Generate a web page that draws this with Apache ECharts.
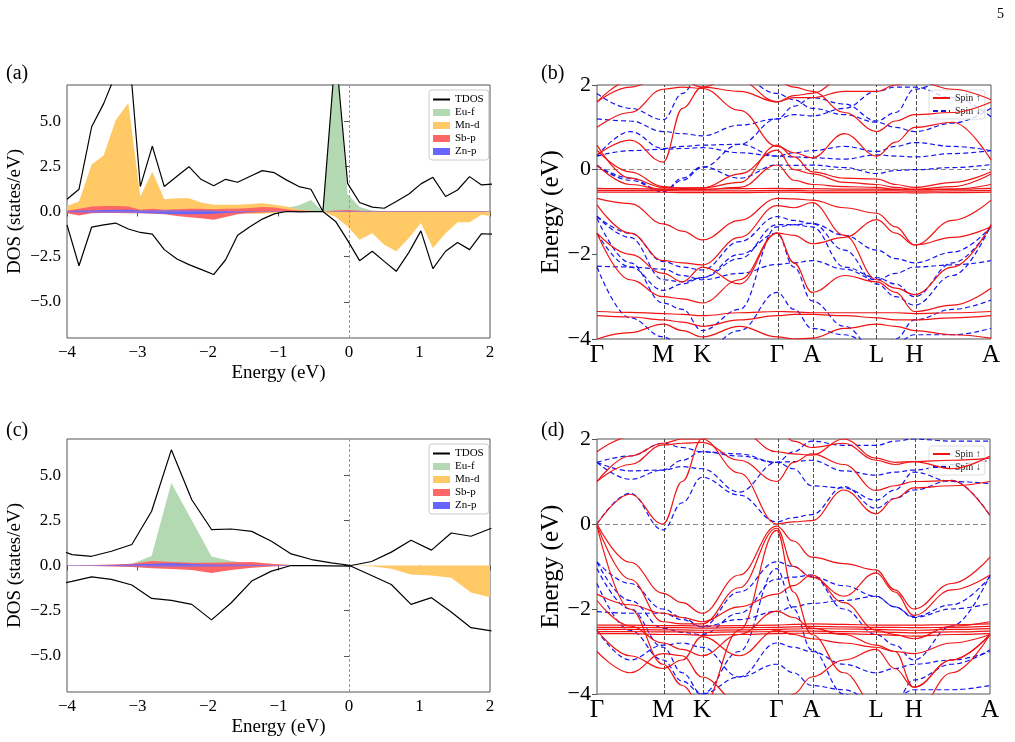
<!DOCTYPE html>
<html>
<head>
<meta charset="utf-8">
<script src="https://cdn.jsdelivr.net/npm/echarts@6.0.0/dist/echarts.min.js"></script>
<style>
html, body { margin: 0; padding: 0; background: #fff; }
#main { width: 1015px; height: 742px; }
</style>
</head>
<body>
<div id="main"></div>
<script>
// ---- DOS panel (a) : energies and projected DOS (spin up > 0, spin down < 0)
const energyA = [-4.00,-3.83,-3.65,-3.48,-3.31,-3.13,-2.96,-2.79,-2.62,-2.44,-2.27,-2.10,-1.92,-1.75,-1.58,-1.40,-1.23,-1.06,-0.89,-0.71,-0.54,-0.37,-0.19,-0.02,0.15,0.33,0.50,0.67,0.85,1.02,1.19,1.37,1.54,1.71,1.88,2.06];
const tdosUpA = [0.68,1.23,4.69,5.97,7.6,9.4,1.38,3.62,1.38,1.95,2.48,1.78,1.42,1.78,1.62,1.95,2.26,2.15,1.75,1.38,1.23,0.0,8.9,1.56,0.50,0.24,0.18,0.55,0.97,1.53,1.89,0.83,1.19,1.93,1.47,1.53];
const tdosDnA = [-0.74,-3.0,-0.86,-0.74,-0.64,-0.97,-1.16,-1.25,-2.11,-2.63,-2.94,-3.2,-3.49,-2.67,-1.32,-0.83,-0.42,-0.13,0.0,-0.02,-0.01,0.0,-0.55,-1.6,-2.72,-2.2,-2.76,-3.31,-2.26,-1.07,-3.16,-2.2,-1.71,-2.11,-1.23,-1.25];
const euUpA = [0.02,0.02,0.02,0.02,0.02,0.02,0.02,0.02,0.02,0.02,0.02,0.02,0.02,0.02,0.02,0.02,0.02,0.02,0.2,0.35,0.64,0.0,8.8,0.95,0.25,0.05,0.02,0.02,0.02,0.02,0.02,0.02,0.02,0.02,0.02,0.02];
const euDnA = [-0.01,-0.01,-0.01,-0.01,-0.01,-0.01,-0.01,-0.01,-0.01,-0.01,-0.01,-0.01,-0.01,-0.01,-0.01,-0.01,-0.01,-0.01,-0.01,-0.01,-0.01,0.0,-0.01,-0.01,-0.01,-0.01,-0.01,-0.01,-0.01,-0.01,-0.01,-0.01,-0.01,-0.01,-0.01,-0.01];
const mnUpA = [0.31,0.55,2.6,3.1,5.05,6.0,0.83,2.2,0.68,0.73,0.73,0.5,0.37,0.37,0.37,0.42,0.46,0.37,0.28,0.1,0.05,0.0,0.05,0.05,0.03,0.02,0.02,0.02,0.02,0.02,0.02,0.02,0.02,0.02,0.02,0.02];
const mnDnA = [-0.03,-0.03,-0.03,-0.03,-0.03,-0.03,-0.03,-0.03,-0.03,-0.03,-0.03,-0.03,-0.03,-0.03,-0.03,-0.12,-0.12,-0.08,-0.02,-0.02,-0.02,0.0,-0.3,-0.83,-1.56,-1.2,-1.84,-2.2,-1.47,-0.64,-2.02,-1.2,-0.6,-0.6,-0.18,-0.28];
const sbUpA = [0.05,0.15,0.28,0.3,0.3,0.28,0.1,0.15,0.1,0.12,0.15,0.15,0.12,0.15,0.15,0.2,0.25,0.22,0.12,0.05,0.03,0.0,0.05,0.08,0.04,0.03,0.03,0.03,0.03,0.03,0.03,0.03,0.03,0.03,0.03,0.03];
const sbDnA = [-0.1,-0.22,-0.1,-0.08,-0.08,-0.1,-0.1,-0.12,-0.15,-0.25,-0.32,-0.38,-0.45,-0.3,-0.15,-0.08,-0.05,-0.03,-0.02,-0.02,-0.02,0.0,-0.02,-0.02,-0.02,-0.02,-0.02,-0.02,-0.02,-0.02,-0.02,-0.02,-0.02,-0.02,-0.02,-0.02];
const znUpA = [0.03,0.05,0.06,0.08,0.1,0.1,0.05,0.05,0.05,0.05,0.05,0.05,0.04,0.03,0.02,0.02,0.02,0.02,0.01,0.01,0.01,0.0,0.01,0.01,0.01,0.01,0.01,0.01,0.01,0.01,0.01,0.01,0.01,0.01,0.01,0.01];
const znDnA = [-0.03,-0.05,-0.05,-0.05,-0.05,-0.06,-0.08,-0.1,-0.12,-0.15,-0.15,-0.15,-0.12,-0.08,-0.05,-0.03,-0.02,-0.02,-0.01,-0.01,-0.01,0.0,-0.01,-0.01,-0.01,-0.01,-0.01,-0.01,-0.01,-0.01,-0.01,-0.01,-0.01,-0.01,-0.01,-0.01];

// ---- DOS panel (c)
const energyC = [-4.22,-3.93,-3.65,-3.37,-3.08,-2.80,-2.52,-2.23,-1.95,-1.67,-1.38,-1.10,-0.82,-0.53,-0.25,0.03,0.32,0.60,0.88,1.17,1.45,1.73,2.02];
const tdosUpC = [1.05,0.6,0.51,0.79,1.16,3.0,6.4,3.64,1.99,2.02,1.89,1.34,0.64,0.33,0.15,0.0,0.22,0.74,1.4,0.85,1.8,1.62,2.06];
const tdosDnC = [-1.1,-0.88,-0.63,-0.77,-1.08,-1.82,-1.93,-2.15,-3.01,-2.06,-0.86,-0.31,0.0,-0.01,-0.02,-0.04,-0.55,-1.05,-2.15,-1.78,-2.57,-3.44,-3.62];
const euUpC = [0.0,0.0,0.0,0.02,0.1,0.52,4.56,2.5,0.5,0.25,0.1,0.03,0.01,0.0,0.0,0.0,0.0,0.0,0.0,0.0,0.0,0.0,0.0];
const euDnC = [0.0,0.0,0.0,0.0,0.0,0.0,-0.01,-0.01,0.0,0.0,0.0,0.0,0.0,0.0,0.0,0.0,0.0,0.0,0.0,0.0,0.0,0.0,0.0];
const mnUpC = [0.0,0.0,0.0,0.0,0.01,0.02,0.02,0.02,0.02,0.01,0.01,0.0,0.0,0.0,0.0,0.0,0.0,0.0,0.0,0.0,0.0,0.0,0.0];
const mnDnC = [0.0,0.0,0.0,0.0,0.0,0.0,0.0,0.0,0.0,0.0,0.0,0.0,0.0,0.0,0.0,0.0,-0.04,-0.18,-0.5,-0.55,-0.68,-1.5,-1.78];
const sbUpC = [0.02,0.02,0.03,0.05,0.1,0.25,0.2,0.15,0.15,0.18,0.2,0.1,0.03,0.01,0.0,0.0,0.0,0.0,0.0,0.0,0.0,0.0,0.0];
const sbDnC = [-0.02,-0.02,-0.03,-0.05,-0.08,-0.15,-0.2,-0.25,-0.42,-0.25,-0.12,-0.05,-0.02,-0.01,0.0,0.0,0.0,0.0,0.0,0.0,0.0,0.0,0.0];
const znUpC = [0.01,0.01,0.02,0.03,0.05,0.1,0.12,0.08,0.06,0.05,0.04,0.02,0.01,0.0,0.0,0.0,0.0,0.0,0.0,0.0,0.0,0.0,0.0];
const znDnC = [-0.01,-0.01,-0.02,-0.03,-0.04,-0.05,-0.06,-0.05,-0.05,-0.04,-0.03,-0.02,-0.01,0.0,0.0,0.0,0.0,0.0,0.0,0.0,0.0,0.0,0.0];

// ---- band structures: energies (eV) sampled along the k-path
const kPts = [0, 0.084, 0.168, 0.217, 0.267, 0.362, 0.457, 0.5, 0.546, 0.628, 0.71, 0.758, 0.806, 0.903, 1.0];
const kTicks = [0, 0.168, 0.267, 0.457, 0.546, 0.71, 0.806, 1.0];
const kLabels = ['Γ', 'M', 'K', 'Γ', 'A', 'L', 'H', 'A'];

// panel (b), spin up
const bandsUpB = [
  [1.6, 2.1, 2.5, 2.5, 2.4, 2.1, 1.6, 1.75, 1.8, 2.2, 2.3, 2.3, 2.2, 2.2, 2.2],
  [1.6, 1.95, 2.2, 2.1, 1.95, 1.85, 1.6, 1.7, 1.7, 1.85, 1.85, 2.0, 2.1, 1.9, 1.65],
  [1.0, 1.35, 1.9, 1.95, 1.92, 1.4, 0.55, 0.4, 0.28, 0.85, 0.32, 0.65, 1.0, 1.12, 0.23],
  [0.35, 0.7, 0.18, 1.45, 1.95, 2.3, 2.1, 1.95, 1.85, 1.35, 0.9, 1.15, 1.3, 1.35, 1.6],
  [0.58, -0.2, -0.42, -0.44, -0.43, -0.3, 0.58, 0.3, -0.05, -0.2, -0.22, -0.35, -0.42, -0.3, -0.05],
  [0.46, -0.05, -0.40, -0.43, -0.43, -0.1, 0.46, 0.0, -0.1, -0.3, -0.35, -0.42, -0.46, -0.4, -0.1],
  [0.11, -0.35, -0.46, -0.47, -0.47, -0.42, 0.11, -0.25, -0.35, -0.4, -0.42, -0.46, -0.48, -0.46, -0.35],
  [-0.44, -0.45, -0.46, -0.46, -0.46, -0.45, -0.44, -0.45, -0.45, -0.46, -0.46, -0.47, -0.47, -0.46, -0.44],
  [-0.49, -0.49, -0.49, -0.50, -0.50, -0.50, -0.49, -0.49, -0.50, -0.50, -0.50, -0.50, -0.51, -0.50, -0.49],
  [-0.53, -0.53, -0.53, -0.54, -0.54, -0.54, -0.53, -0.53, -0.54, -0.54, -0.54, -0.54, -0.55, -0.54, -0.53],
  [-0.68, -0.8, -1.28, -1.45, -1.66, -1.2, -0.68, -0.69, -0.72, -0.9, -1.03, -1.35, -1.78, -1.2, -0.72],
  [-0.83, -1.5, -2.15, -2.2, -2.25, -1.6, -0.85, -0.9, -0.78, -1.55, -2.6, -2.8, -2.95, -2.3, -1.3],
  [-1.5, -2.0, -2.45, -2.65, -2.3, -2.7, -1.5, -1.55, -1.75, -1.6, -1.18, -1.5, -1.78, -1.6, -1.35],
  [-1.5, -2.6, -3.0, -3.05, -3.15, -2.6, -1.5, -2.2, -2.9, -2.5, -2.65, -2.9, -3.35, -3.2, -2.8],
  [-3.35, -3.37, -3.4, -3.42, -3.45, -3.38, -3.35, -3.36, -3.38, -3.38, -3.38, -3.38, -3.4, -3.38, -3.35],
  [-3.45, -3.48, -3.55, -3.6, -3.7, -3.55, -3.45, -3.42, -3.42, -3.45, -3.5, -3.55, -3.55, -3.5, -3.45],
  [-4.0, -3.85, -3.65, -3.8, -3.95, -3.7, -3.95, -4.0, -3.98, -3.75, -3.65, -3.7, -3.8, -3.9, -3.98]
];
// panel (b), spin down
const bandsDnB = [
  [1.8, 1.45, 1.18, 1.8, 2.4, 2.2, 1.8, 1.65, 1.45, 1.3, 1.12, 1.0, 0.9, 1.1, 1.45],
  [1.2, 1.15, 0.9, 0.85, 0.8, 1.05, 1.2, 1.3, 1.27, 1.45, 1.85, 1.95, 1.95, 1.7, 1.25],
  [0.32, 0.9, 0.5, 0.55, 0.58, 0.6, 0.32, 0.4, 0.45, 0.55, 0.43, 0.55, 0.64, 0.55, 0.45],
  [0.32, 0.45, 0.48, 0.5, 0.52, 0.4, 0.32, 0.3, 0.28, 0.25, 0.35, 0.32, 0.3, 0.38, 0.45],
  [0.1, -0.25, -0.52, -0.2, 0.07, -0.2, 0.11, 0.1, 0.11, 0.05, -0.09, -0.02, 0.0, 0.05, 0.12],
  [0.1, -0.2, -0.52, -0.25, 0.05, 0.6, 1.2, 1.5, 1.7, 1.55, 1.15, 1.35, 1.9, 2.2, 2.3],
  [-1.1, -1.5, -2.17, -2.3, -2.37, -1.7, -1.11, -1.2, -1.27, -1.55, -1.9, -2.1, -2.2, -1.95, -1.35],
  [-1.5, -2.3, -2.85, -2.7, -2.55, -2.0, -1.5, -2.3, -3.1, -3.7, -4.3, -4.0, -3.55, -3.3, -3.08],
  [-2.28, -2.3, -2.35, -2.5, -2.6, -2.45, -2.24, -2.2, -2.15, -2.35, -2.6, -2.45, -2.3, -2.25, -2.15],
  [-1.15, -2.2, -3.15, -3.3, -3.8, -3.3, -1.35, -1.3, -1.27, -1.9, -2.7, -3.0, -3.2, -2.5, -1.3],
  [-2.3, -3.5, -3.95, -4.2, -4.3, -3.8, -2.9, -3.3, -3.75, -3.9, -4.2, -4.1, -3.9, -3.9, -3.75],
  [-1.1, -1.6, -2.6, -2.65, -2.55, -2.1, -1.3, -1.3, -1.35, -2.3, -2.55, -2.7, -3.0, -2.2, -1.35]
];
// panel (d), spin up
const bandsUpD = [
  [1.7, 2.05, 2.3, 2.2, 2.05, 2.2, 1.7, 1.65, 1.62, 2.0, 1.55, 1.45, 1.47, 1.3, 1.6],
  [1.0, 1.4, 1.86, 1.9, 1.92, 1.5, 1.0, 1.45, 1.65, 1.4, 0.79, 0.9, 1.0, 1.02, 0.2],
  [0.0, 0.7, 0.0, 1.0, 2.0, 2.4, 2.3, 1.95, 1.8, 1.9, 1.5, 1.4, 1.47, 1.5, 1.55],
  [1.0, 1.6, 1.9, 2.0, 2.0, 1.2, 0.0, 0.05, 0.08, 0.8, 0.24, 0.6, 0.85, 0.9, 1.0],
  [0.0, -0.9, -1.63, -1.85, -2.1, -1.2, -0.05, -0.4, -0.78, -0.93, -1.08, -1.55, -2.0, -1.4, -0.78],
  [-0.02, -1.3, -2.3, -2.35, -2.35, -1.5, -0.1, -1.0, -1.25, -1.7, -1.15, -1.6, -2.15, -1.55, -1.2],
  [-0.05, -2.0, -3.3, -3.8, -4.3, -2.5, -0.15, -1.6, -2.6, -3.5, -4.3, -4.5, -4.5, -3.5, -2.6],
  [-1.65, -1.9, -2.1, -2.2, -2.3, -1.95, -1.65, -1.45, -1.2, -1.85, -2.5, -2.6, -2.7, -2.4, -2.3],
  [-1.8, -2.4, -2.8, -2.95, -3.1, -2.6, -2.05, -2.2, -2.45, -2.6, -2.85, -3.0, -3.05, -2.8, -2.6],
  [-2.38, -2.38, -2.39, -2.39, -2.4, -2.39, -2.38, -2.36, -2.35, -2.36, -2.38, -2.38, -2.38, -2.37, -2.35],
  [-2.43, -2.43, -2.44, -2.44, -2.45, -2.44, -2.43, -2.42, -2.41, -2.42, -2.43, -2.43, -2.44, -2.43, -2.41],
  [-2.48, -2.48, -2.49, -2.49, -2.5, -2.49, -2.48, -2.47, -2.46, -2.47, -2.48, -2.49, -2.5, -2.48, -2.46],
  [-2.53, -2.53, -2.54, -2.54, -2.55, -2.54, -2.53, -2.52, -2.52, -2.53, -2.54, -2.55, -2.56, -2.54, -2.52],
  [-2.58, -2.58, -2.6, -2.6, -2.62, -2.6, -2.58, -2.57, -2.57, -2.58, -2.6, -2.62, -2.64, -2.6, -2.58],
  [-2.5, -3.1, -3.4, -3.2, -2.65, -3.1, -2.5, -2.6, -2.7, -2.8, -2.9, -3.0, -3.84, -3.2, -2.6],
  [-3.0, -3.5, -3.05, -3.1, -3.6, -4.2, -4.4, -4.0, -3.6, -3.2, -2.95, -3.4, -3.84, -3.2, -2.6]
];
// panel (d), spin down
const bandsDnD = [
  [1.45, 1.05, 1.27, 1.5, 1.7, 1.6, 1.45, 1.47, 1.5, 1.25, 1.15, 1.22, 1.27, 1.4, 1.5],
  [1.45, 1.6, 1.9, 1.8, 1.7, 1.65, 1.45, 1.7, 1.95, 1.85, 1.85, 1.95, 2.0, 1.95, 1.95],
  [0.0, 0.72, -0.14, 0.5, 1.1, 0.68, 0.05, 0.15, 0.22, 0.88, 0.37, 0.6, 0.8, 1.03, 0.2],
  [1.45, 1.25, 1.27, 1.35, 1.3, 0.75, 1.45, 1.3, 0.9, 0.85, 0.56, 0.8, 1.22, 1.0, 0.95],
  [-0.89, -1.4, -2.0, -2.2, -2.42, -1.6, -0.89, -1.0, -1.24, -1.45, -1.7, -1.95, -2.18, -1.9, -1.24],
  [-1.05, -2.0, -2.9, -3.5, -4.0, -3.0, -1.05, -2.0, -2.96, -4.0, -4.6, -4.2, -3.67, -3.3, -2.96],
  [-2.06, -2.1, -2.1, -2.25, -2.42, -2.25, -2.06, -1.95, -1.87, -1.8, -1.7, -1.95, -2.2, -2.0, -1.87],
  [-0.9, -1.8, -2.45, -2.55, -2.6, -2.1, -1.3, -1.25, -1.2, -2.0, -2.6, -2.85, -3.2, -2.4, -1.2],
  [-2.5, -3.2, -2.85, -2.8, -2.9, -3.6, -3.3, -3.5, -3.8, -3.9, -4.2, -4.1, -3.9, -3.9, -3.8],
  [-1.4, -2.5, -3.2, -3.7, -4.0, -3.6, -2.8, -2.9, -3.0, -3.3, -3.5, -3.4, -3.3, -3.2, -3.0]
];

const FONT = 'Liberation Serif';
const AX = '#555';
const COL = { tdos: '#000000', eu: '#b3d9b3', mn: '#ffc966', sb: '#ff6666', zn: '#6666ff' };
const RED = '#f01414';
const BLUE = '#1414f0';

function pairs(xs, ys) { return xs.map((x, i) => [x, ys[i]]); }
function minus(s) { return String(s).replace('-', '\u2212'); }

const grids = [
  { left: 67, top: 85, width: 423, height: 253 },
  { left: 597, top: 85, width: 394, height: 254 },
  { left: 67, top: 439, width: 423, height: 253 },
  { left: 597, top: 439, width: 393, height: 255 }
].map(g => Object.assign({ show: true, borderColor: AX, borderWidth: 1, backgroundColor: 'transparent' }, g));

function dosXAxis(gi) {
  return {
    type: 'value', gridIndex: gi, min: -4, max: 2, interval: 1,
    axisLine: { show: false }, splitLine: { show: false },
    axisTick: { inside: false, length: 5, lineStyle: { color: AX } },
    axisLabel: { color: '#000', fontFamily: FONT, fontSize: 17, margin: 6, formatter: v => minus(v) },
    name: 'Energy (eV)', nameLocation: 'middle', nameGap: 26,
    nameTextStyle: { color: '#000', fontFamily: FONT, fontSize: 19 }
  };
}
function dosYAxis(gi) {
  const ticks = [-5, -2.5, 0, 2.5, 5];
  return {
    type: 'value', gridIndex: gi, min: -7, max: 7,
    axisLine: { show: false }, splitLine: { show: false },
    axisTick: { inside: false, length: 5, lineStyle: { color: AX }, customValues: ticks },
    axisLabel: { color: '#000', fontFamily: FONT, fontSize: 17, margin: 6, customValues: ticks,
                 formatter: v => minus(v.toFixed(1)) },
    name: 'DOS (states/eV)', nameLocation: 'middle', nameGap: 42,
    nameTextStyle: { color: '#000', fontFamily: FONT, fontSize: 19 }
  };
}
function bandXAxis(gi) {
  return {
    type: 'value', gridIndex: gi, min: 0, max: 1,
    axisLine: { show: false }, splitLine: { show: false },
    axisTick: { show: false, customValues: kTicks },
    axisLabel: { color: '#000', fontFamily: FONT, fontSize: 25, margin: 4, customValues: kTicks,
                 formatter: v => { let i = 0; kTicks.forEach((k, j) => { if (Math.abs(k - v) < 1e-6) i = j; }); return kLabels[i]; } }
  };
}
function bandYAxis(gi) {
  return {
    type: 'value', gridIndex: gi, min: -4, max: 2, interval: 2,
    axisLine: { show: false }, splitLine: { show: false },
    axisTick: { inside: false, length: 5, lineStyle: { color: AX } },
    axisLabel: { color: '#000', fontFamily: FONT, fontSize: 22, margin: 6, formatter: v => minus(v) },
    name: 'Energy (eV)', nameLocation: 'middle', nameGap: 30,
    nameTextStyle: { color: '#000', fontFamily: FONT, fontSize: 25 }
  };
}

const series = [];

function fill(gi, name, color, x, y, z) {
  series.push({
    type: 'line', name, xAxisIndex: gi, yAxisIndex: gi, data: pairs(x, y),
    symbol: 'none', z, itemStyle: { color }, lineStyle: { width: 0 },
    areaStyle: { color, opacity: 1, origin: 0 }, silent: true
  });
}
function tdos(gi, x, y) {
  series.push({
    type: 'line', name: 'TDOS', xAxisIndex: gi, yAxisIndex: gi, data: pairs(x, y),
    symbol: 'none', z: 10, itemStyle: { color: COL.tdos }, lineStyle: { color: COL.tdos, width: 1.2 }
  });
}
function fermiV(gi) {
  series.push({
    type: 'line', xAxisIndex: gi, yAxisIndex: gi, data: [], silent: true,
    markLine: { symbol: 'none', silent: true, label: { show: false },
      lineStyle: { color: '#999', type: [3, 2], width: 1 }, data: [{ xAxis: 0 }] }
  });
}

// panel (a)
fill(0, 'Eu-f', COL.eu, energyA, euUpA, 2); fill(0, 'Eu-f', COL.eu, energyA, euDnA, 2);
fill(0, 'Mn-d', COL.mn, energyA, mnUpA, 3); fill(0, 'Mn-d', COL.mn, energyA, mnDnA, 3);
fill(0, 'Sb-p', COL.sb, energyA, sbUpA, 4); fill(0, 'Sb-p', COL.sb, energyA, sbDnA, 4);
fill(0, 'Zn-p', COL.zn, energyA, znUpA, 5); fill(0, 'Zn-p', COL.zn, energyA, znDnA, 5);
tdos(0, energyA, tdosUpA); tdos(0, energyA, tdosDnA);
fermiV(0);
// panel (c)
fill(2, 'Eu-f', COL.eu, energyC, euUpC, 2); fill(2, 'Eu-f', COL.eu, energyC, euDnC, 2);
fill(2, 'Mn-d', COL.mn, energyC, mnUpC, 3); fill(2, 'Mn-d', COL.mn, energyC, mnDnC, 3);
fill(2, 'Sb-p', COL.sb, energyC, sbUpC, 4); fill(2, 'Sb-p', COL.sb, energyC, sbDnC, 4);
fill(2, 'Zn-p', COL.zn, energyC, znUpC, 5); fill(2, 'Zn-p', COL.zn, energyC, znDnC, 5);
tdos(2, energyC, tdosUpC); tdos(2, energyC, tdosDnC);
fermiV(2);

function bands(gi, up, dn) {
  series.push({
    type: 'line', xAxisIndex: gi, yAxisIndex: gi, data: [], silent: true,
    markLine: { symbol: 'none', silent: true, label: { show: false }, z: 1,
      data: kTicks.slice(1, -1).map(k => ({ xAxis: k, lineStyle: { color: '#222', type: [4, 2], width: 0.8 } }))
        .concat([{ yAxis: 0, lineStyle: { color: '#888', type: [5, 3], width: 1 } }]) }
  });
  up.forEach(b => series.push({
    type: 'line', name: 'Spin ↑', xAxisIndex: gi, yAxisIndex: gi, data: pairs(kPts, b),
    symbol: 'none', smooth: 0.4, smoothMonotone: 'x', z: 4,
    itemStyle: { color: RED }, lineStyle: { color: RED, width: 1.2 }
  }));
  dn.forEach(b => series.push({
    type: 'line', name: 'Spin ↓', xAxisIndex: gi, yAxisIndex: gi, data: pairs(kPts, b),
    symbol: 'none', smooth: 0.4, smoothMonotone: 'x', z: 3,
    itemStyle: { color: BLUE }, lineStyle: { color: BLUE, width: 1.2, type: [5, 3] }
  }));
}
bands(1, bandsUpB, bandsDnB);
bands(3, bandsUpD, bandsDnD);

const hideMark = { opacity: 0, borderWidth: 0 };
function dosLegend(top) {
  return {
    orient: 'vertical', left: 429, top, itemWidth: 17, itemHeight: 7, itemGap: 2,
    backgroundColor: '#fff', borderColor: '#ccc', borderWidth: 1, borderRadius: 3, padding: [4, 5, 3, 3],
    textStyle: { fontFamily: FONT, fontSize: 11, color: '#000' },
    data: [{ name: 'TDOS', itemStyle: hideMark }, { name: 'Eu-f', icon: 'rect' }, { name: 'Mn-d', icon: 'rect' },
           { name: 'Sb-p', icon: 'rect' }, { name: 'Zn-p', icon: 'rect' }]
  };
}
function bandLegend(top) {
  return {
    orient: 'vertical', left: 929, top, itemWidth: 17, itemHeight: 7, itemGap: 3,
    backgroundColor: 'rgba(255,255,255,0.8)', borderColor: '#ddd', borderWidth: 1, borderRadius: 3, padding: [3, 4, 3, 3],
    textStyle: { fontFamily: FONT, fontSize: 10, color: '#222' },
    data: [{ name: 'Spin ↑', itemStyle: hideMark }, { name: 'Spin ↓', itemStyle: hideMark }]
  };
}

function label(text, left, top, size) {
  return { type: 'text', left, top, style: { text, fontFamily: FONT, fontSize: size, fill: '#000' } };
}

const chart = echarts.init(document.getElementById('main'));
chart.setOption({
  animation: false,
  backgroundColor: '#fff',
  grid: grids,
  xAxis: [dosXAxis(0), bandXAxis(1), dosXAxis(2), bandXAxis(3)],
  yAxis: [dosYAxis(0), bandYAxis(1), dosYAxis(2), bandYAxis(3)],
  legend: [dosLegend(90), bandLegend(90), dosLegend(444), bandLegend(446)],
  series,
  graphic: [
    label('(a)', 6, 64, 20), label('(b)', 541, 64, 20),
    label('(c)', 6, 421, 20), label('(d)', 541, 421, 20),
    label('5', 997, 7, 14)
  ]
});
</script>
</body>
</html>
